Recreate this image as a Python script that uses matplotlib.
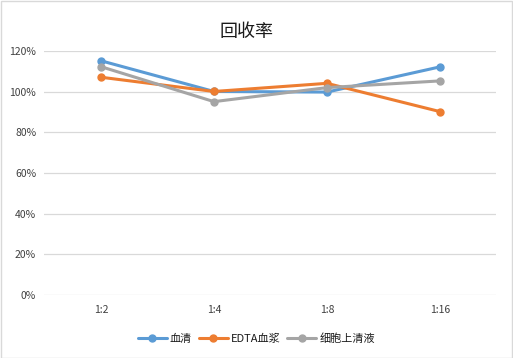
import numpy as np
import matplotlib
matplotlib.use('Agg')
import matplotlib.pyplot as plt
from matplotlib.ticker import PercentFormatter

plt.rcParams['font.family'] = ['Noto Sans CJK SC', 'DejaVu Sans']

# data
categories = ['1:2', '1:4', '1:8', '1:16']
serum = [115.2, 100.1, 99.8, 112.2]
edta_plasma = [107.1, 100.1, 104.1, 90.2]
supernatant = [112.3, 95.1, 102.0, 105.3]
series_names = ['血清', 'EDTA血浆', '细胞上清液']
colors = ['#5B9BD5', '#ED7D31', '#A5A5A5']

fig = plt.figure(figsize=(5.13, 3.58), dpi=100)
ax = fig.add_axes([0.0867, 0.176, 0.881, 0.6815])

x = np.arange(len(categories))
for vals, name, c in zip([serum, edta_plasma, supernatant], series_names, colors):
    ax.plot(x, vals, color=c, lw=2.2, marker='o', ms=5, label=name, solid_capstyle='round')

ax.set_xlim(-0.5, len(categories) - 0.5)
ax.set_ylim(0, 120)
ax.set_yticks(np.arange(0, 121, 20))
ax.yaxis.set_major_formatter(PercentFormatter(decimals=0))
ax.set_xticks(x)
ax.set_xticklabels(categories)
ax.grid(axis='y', color='#D9D9D9', lw=0.9)
ax.set_axisbelow(True)
for s in ax.spines.values():
    s.set_visible(False)
ax.tick_params(length=0, labelsize=7.5, labelcolor='#404040')
ax.tick_params(axis='y', pad=6)
ax.tick_params(axis='x', pad=7)

fig.text(0.481, 0.911, '回收率', ha='center', va='center', fontsize=13, color='#1a1a1a')

leg = fig.legend(loc='center', bbox_to_anchor=(0.5, 0.055), ncol=3, frameon=False,
                 fontsize=8, handlelength=2.6, columnspacing=0.6, handletextpad=0.3)
for t in leg.get_texts():
    t.set_color('#1a1a1a')

# light border around the chart
fig.patches.append(plt.Rectangle((0.001, 0.001), 0.997, 0.996, transform=fig.transFigure,
                                 fill=False, edgecolor='#D9D9D9', lw=1))

fig.savefig('out.png', dpi=100)
